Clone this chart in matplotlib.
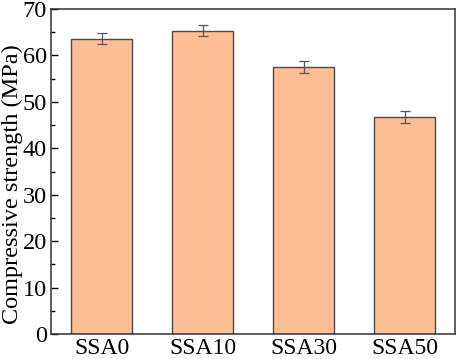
import matplotlib
matplotlib.use('Agg')
import matplotlib.pyplot as plt
from matplotlib.ticker import MultipleLocator

# Data
labels = ['SSA0', 'SSA10', 'SSA30', 'SSA50']
strength = [63.6, 65.3, 57.5, 46.8]
errors = [1.2, 1.2, 1.3, 1.25]

plt.rcParams['font.family'] = ['Liberation Serif', 'DejaVu Serif']

fig = plt.figure(figsize=(4.57, 3.59), dpi=100)
ax = fig.add_axes([51 / 457, 25 / 359, 404 / 457, 325 / 359])

x = list(range(len(labels)))
ax.bar(x, strength, width=0.6, color='#FFBE94', edgecolor='#4a4a4a',
       linewidth=1.0, yerr=errors, zorder=2,
       error_kw=dict(ecolor='#555555', elinewidth=0.9, capsize=3.5,
                     capthick=0.9))

ax.set_xlim(-0.5, 3.5)
ax.set_ylim(0, 70)
ax.set_xticks(x)
ax.set_xticklabels(labels)
ax.yaxis.set_major_locator(MultipleLocator(10))
ax.yaxis.set_minor_locator(MultipleLocator(5))
ax.tick_params(axis='y', which='major', direction='in', length=5, width=1,
               labelsize=17.5, pad=3)
ax.tick_params(axis='y', which='minor', direction='in', length=3, width=1)
ax.tick_params(axis='x', length=0, labelsize=17, pad=3)
for s in ax.spines.values():
    s.set_linewidth(1.1)
    s.set_color('#333333')

ax.set_ylabel('Compressive strength (MPa)', fontsize=17.5)
# label anchored by its right edge on screen, sits a bit below centre
ax.yaxis.set_label_coords(-0.07, 0.46)

plt.savefig('out.png', dpi=100)
